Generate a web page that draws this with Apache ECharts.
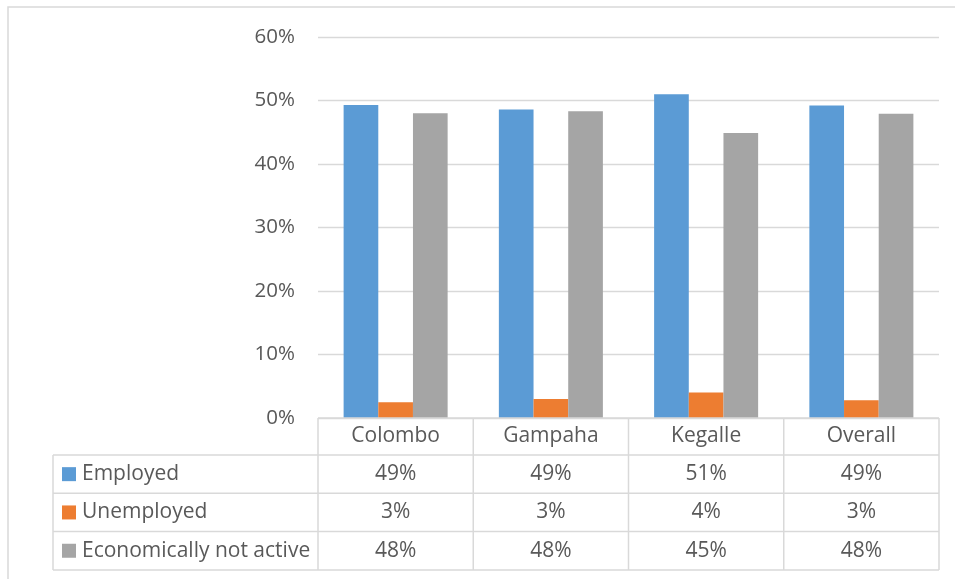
<!DOCTYPE html>
<html>
<head>
<meta charset="utf-8">
<script src="https://cdn.jsdelivr.net/npm/echarts@6/dist/echarts.min.js"></script>
<style>
html, body { margin: 0; padding: 0; background: #fff; }
#chart { width: 955px; height: 579px; }
</style>
</head>
<body>
<div id="chart"></div>
<script>
// data
var categories = ['Colombo', 'Gampaha', 'Kegalle', 'Overall'];
var seriesNames = ['Employed', 'Unemployed', 'Economically not active'];
var employed = [49.3, 48.6, 51.0, 49.2];
var unemployed = [2.5, 3.0, 4.0, 2.8];
var notActive = [48.0, 48.3, 44.9, 47.9];
// rounded values shown in the data table
var tableEmployed = ['49%', '49%', '51%', '49%'];
var tableUnemployed = ['3%', '3%', '4%', '3%'];
var tableNotActive = ['48%', '48%', '45%', '48%'];
var yMax = 60, yStep = 10;

var colors = ['#5B9BD5', '#ED7D31', '#A5A5A5'];
var textColor = '#595959';
var lineColor = '#D9D9D9';
var font = 'Open Sans';
var fs = 21;

var myChart = echarts.init(document.getElementById('chart'));

var option = {
    backgroundColor: '#FFFFFF',
    animation: false,
    grid: { left: 318, right: 16, top: 37, bottom: 161 },
    xAxis: {
        type: 'category',
        data: categories,
        axisLine: { show: false },
        axisTick: { show: false },
        axisLabel: { show: false }
    },
    yAxis: {
        type: 'value',
        min: 0,
        max: yMax,
        interval: yStep,
        axisLine: { show: false },
        axisTick: { show: false },
        axisLabel: { formatter: '{value}%', color: textColor, fontSize: 20.5, fontFamily: font, margin: 23 },
        splitLine: { lineStyle: { color: lineColor, width: 1.3 } }
    },
    series: [
        { name: seriesNames[0], type: 'bar', data: employed, barGap: 0, barCategoryGap: '33%', itemStyle: { color: colors[0] } },
        { name: seriesNames[1], type: 'bar', data: unemployed, itemStyle: { color: colors[1] } },
        { name: seriesNames[2], type: 'bar', data: notActive, itemStyle: { color: colors[2] } }
    ]
};
myChart.setOption(option);

// data table under the plot, lined up with the category axis
function buildTable() {
    var g = [];
    var c0 = myChart.convertToPixel({ xAxisIndex: 0 }, 0);
    var c1 = myChart.convertToPixel({ xAxisIndex: 0 }, 1);
    var band = c1 - c0;
    var y0 = myChart.convertToPixel({ yAxisIndex: 0 }, 0);
    var tableLeft = 53;
    var headH = 37, rowH = 38.3;
    var colEdges = [];
    for (var i = 0; i <= categories.length; i++) colEdges.push(c0 - band / 2 + i * band);
    var right = colEdges[colEdges.length - 1];
    var rows = [tableEmployed, tableUnemployed, tableNotActive];
    var rowTop = [];
    for (var r = 0; r <= rows.length; r++) rowTop.push(y0 + headH + r * rowH);
    var bottom = rowTop[rows.length];

    function line(x1, y1, x2, y2) {
        g.push({ type: 'line', shape: { x1: x1, y1: y1, x2: x2, y2: y2 }, style: { stroke: lineColor, lineWidth: 1.5 }, z: 10 });
    }
    function text(x, y, s, align) {
        g.push({ type: 'text', x: x, y: y, style: { text: s, fill: textColor, fontSize: fs, fontFamily: font, align: align, verticalAlign: 'middle' }, z: 11 });
    }

    // outer chart border
    g.push({ type: 'rect', shape: { x: 8, y: 7, width: 1000, height: 700 }, style: { fill: null, stroke: lineColor, lineWidth: 1.5 }, z: 0 });

    // horizontal lines
    line(colEdges[0], y0, right, y0);
    for (r = 0; r <= rows.length; r++) line(tableLeft, rowTop[r], right, rowTop[r]);
    // vertical lines
    line(tableLeft, rowTop[0], tableLeft, bottom);
    for (i = 0; i < colEdges.length; i++) line(colEdges[i], y0, colEdges[i], bottom);

    // header
    for (i = 0; i < categories.length; i++) text(colEdges[i] + band / 2, y0 + headH / 2, categories[i], 'center');
    // rows
    for (r = 0; r < rows.length; r++) {
        var cy = rowTop[r] + rowH / 2;
        g.push({ type: 'rect', shape: { x: tableLeft + 9, y: cy - 7, width: 14, height: 14 }, style: { fill: colors[r] }, z: 11 });
        text(tableLeft + 29, cy, seriesNames[r], 'left');
        for (i = 0; i < categories.length; i++) text(colEdges[i] + band / 2, cy, rows[r][i], 'center');
    }
    myChart.setOption({ graphic: g });
}
buildTable();
</script>
</body>
</html>
